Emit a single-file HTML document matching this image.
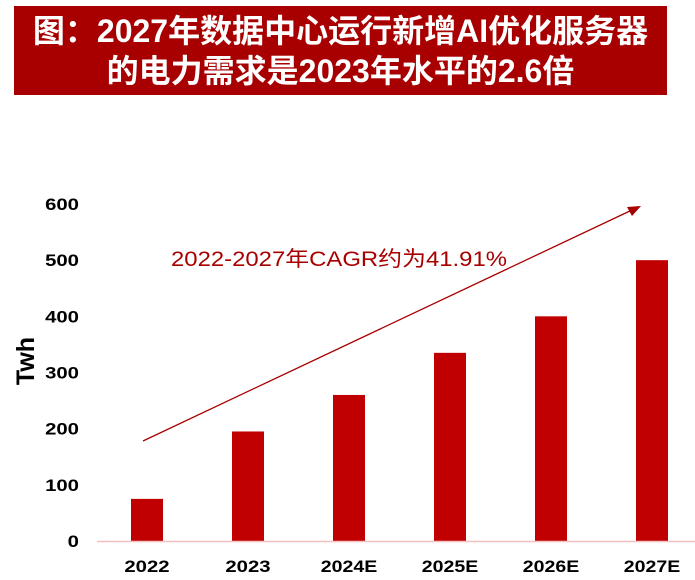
<!DOCTYPE html>
<html><head><meta charset="utf-8"><style>
body{margin:0;width:695px;height:580px;background:#fff;overflow:hidden;font-family:"Liberation Sans","Noto Sans CJK SC",sans-serif}
#title{position:absolute;left:14px;top:6px;width:653px;height:89px;background:#a80000;color:#fff;font-weight:bold;font-size:32px;line-height:40px;text-align:center;padding-top:5px;box-sizing:border-box;white-space:nowrap}
</style></head><body>
<div id="title">图：2027年数据中心运行新增AI优化服务器<br>的电力需求是2023年水平的2.6倍</div>
<svg id="c" width="695" height="580" style="position:absolute;left:0;top:0"></svg>
<script>
const categories=["2022","2023","2024E","2025E","2026E","2027E"];
const values=[75,195,260,335,400,500];
const yTicks=[0,100,200,300,400,500,600];
const NS="http://www.w3.org/2000/svg";
const svg=document.getElementById('c');
const y=v=>541-v*(337/600);
const x=i=>147+i*101;
function mk(t,a){const e=document.createElementNS(NS,t);for(const k in a)e.setAttribute(k,a[k]);svg.appendChild(e);return e;}
yTicks.forEach(t=>{const s=String(t);const e=mk('text',{x:79,y:y(t)+6,'text-anchor':'end','font-size':17,'font-weight':'bold',fill:'#000',textLength:s.length*11.3,lengthAdjust:'spacingAndGlyphs'});e.textContent=s;

});
categories.forEach((c,i)=>{const r=mk('rect',{x:x(i)-16,y:y(values[i]),width:32,height:541-y(values[i]),fill:'#c00000'});


const t=mk('text',{x:x(i),y:572,'text-anchor':'middle','font-size':17,'font-weight':'bold',fill:'#000',textLength:c.length*11.3,lengthAdjust:'spacingAndGlyphs'});t.textContent=c;

});
const ax=mk('line',{x1:97,y1:541.5,x2:695,y2:541.5,stroke:'#f4c0c0','stroke-width':1.5});


const yt=mk('text',{x:0,y:0,transform:'translate(34,361) rotate(-90)','text-anchor':'middle','font-size':25,'font-weight':'bold',fill:'#000'});yt.textContent='Twh';


const ar=mk('line',{x1:143,y1:441,x2:632,y2:210,stroke:'#a80000','stroke-width':1.3});


const hd=mk('polygon',{points:'641,206 627,207 632,216',fill:'#a80000'});


const an=mk('text',{x:171,y:266,'font-size':21,fill:'#a80000',textLength:336,lengthAdjust:'spacingAndGlyphs'});an.textContent='2022-2027年CAGR约为41.91%';


</script>
</body></html>
